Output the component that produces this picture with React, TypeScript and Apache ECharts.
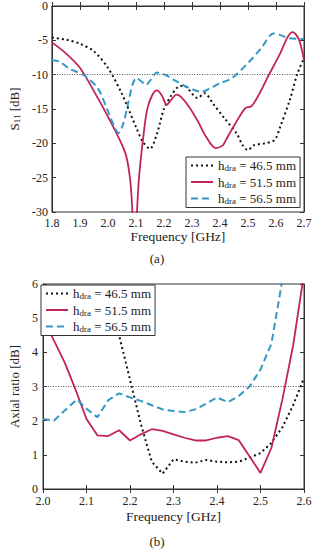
import React, { useEffect, useRef } from "react";
import * as echarts from "echarts";

// ---------- (a) S11 ----------
const fA46 = [1.8, 1.85, 1.9, 1.95, 2.0, 2.05, 2.1, 2.125, 2.15, 2.175, 2.2, 2.225, 2.25, 2.27, 2.285, 2.32, 2.345, 2.375, 2.415, 2.46, 2.48, 2.5, 2.52, 2.56, 2.595, 2.615, 2.65, 2.675, 2.7];
const sA46 = [-4.6, -4.9, -5.5, -6.6, -9.0, -12.8, -17.6, -19.8, -20.8, -18.6, -15.0, -13.1, -11.8, -11.6, -12.0, -13.4, -12.7, -14.2, -16.3, -18.6, -20.2, -21.0, -20.3, -20.0, -19.5, -17.6, -13.6, -10.0, -7.6];

const fA51 = [1.8, 1.85, 1.9, 1.95, 2.0, 2.04, 2.065, 2.08, 2.088, 2.095, 2.102, 2.11, 2.125, 2.14, 2.158, 2.175, 2.192, 2.21, 2.225, 2.245, 2.26, 2.29, 2.32, 2.35, 2.385, 2.41, 2.42, 2.455, 2.49, 2.512, 2.535, 2.575, 2.615, 2.642, 2.66, 2.682, 2.7];
const sA51 = [-5.3, -6.9, -9.0, -12.4, -16.1, -19.3, -21.8, -25.5, -30.5, -37, -31.5, -25.5, -19.5, -15.1, -13.0, -12.3, -13.0, -14.4, -13.7, -12.9, -13.2, -14.7, -16.7, -19.0, -20.7, -20.3, -19.6, -17.1, -14.9, -14.6, -13.2, -10.0, -6.9, -4.5, -3.8, -4.9, -7.9];

const fA56 = [1.8, 1.827, 1.861, 1.895, 1.918, 1.964, 2.0, 2.02, 2.038, 2.055, 2.072, 2.089, 2.102, 2.12, 2.135, 2.152, 2.175, 2.203, 2.237, 2.272, 2.306, 2.334, 2.363, 2.397, 2.443, 2.5, 2.546, 2.591, 2.614, 2.648, 2.7];
const sA56 = [-7.9, -8.1, -9.1, -9.7, -10.2, -12.0, -15.3, -17.3, -18.5, -17.1, -14.2, -11.3, -10.5, -11.0, -11.5, -10.8, -9.7, -10.0, -10.8, -11.6, -12.2, -12.5, -12.0, -11.3, -10.5, -8.3, -6.2, -4.0, -4.2, -4.7, -4.8];

// ---------- (b) Axial ratio ----------
const fB46 = [2.1, 2.125, 2.15, 2.175, 2.2, 2.225, 2.25, 2.275, 2.3, 2.325, 2.35, 2.375, 2.4, 2.425, 2.45, 2.475, 2.5, 2.525, 2.55, 2.575, 2.6];
const arB46 = [7.2, 6.3, 5.4, 4.5, 3.2, 1.9, 0.8, 0.45, 0.87, 0.8, 0.77, 0.85, 0.8, 0.78, 0.8, 0.92, 1.05, 1.35, 1.8, 2.45, 3.25];

const fB51 = [2.0, 2.025, 2.05, 2.075, 2.1, 2.125, 2.15, 2.175, 2.2, 2.225, 2.25, 2.275, 2.3, 2.325, 2.35, 2.375, 2.4, 2.425, 2.45, 2.475, 2.5, 2.525, 2.55, 2.575, 2.6];
const arB51 = [5.0, 4.35, 3.7, 2.9, 2.05, 1.57, 1.55, 1.72, 1.42, 1.6, 1.75, 1.7, 1.6, 1.5, 1.42, 1.42, 1.5, 1.55, 1.43, 0.95, 0.47, 1.2, 2.6, 4.2, 6.3];

const fB56 = [2.0, 2.025, 2.05, 2.078, 2.1, 2.125, 2.15, 2.175, 2.2, 2.225, 2.25, 2.275, 2.3, 2.325, 2.35, 2.375, 2.4, 2.425, 2.45, 2.475, 2.5, 2.525, 2.55];
const arB56 = [2.05, 2.0, 2.3, 2.62, 2.35, 2.1, 2.6, 2.8, 2.68, 2.58, 2.45, 2.33, 2.28, 2.25, 2.33, 2.5, 2.68, 2.54, 2.72, 3.0, 3.5, 4.25, 6.1];

const names = ["46.5", "51.5", "56.5"];
const colors = ["#111111", "#c0245a", "#3597c4"];
const lineTypes: any[] = [[2, 3], "solid", [7, 4]];
const lineWidths = [2, 1.8, 2];

const FONT = "Liberation Serif";

const zip = (xs: number[], ys: number[]) => xs.map((x, i) => [x, ys[i]]);

const subRich = {
  sub: { fontSize: 9, fontFamily: FONT, color: "#222", verticalAlign: "bottom", lineHeight: 8 },
  n: { fontSize: 13, fontFamily: FONT, color: "#222", lineHeight: 14 },
};

export default function App() {
  const ref = useRef<HTMLDivElement>(null);
  useEffect(() => {
    if (!ref.current) return;
    const chart = echarts.init(ref.current, undefined, { renderer: "svg" });

    const axisCommon = {
      axisLine: { show: true, lineStyle: { color: "#333", width: 1 } },
      axisTick: { show: true, inside: true, length: 4, lineStyle: { color: "#333" } },
      splitLine: { show: false },
    };
    const labelStyle = { fontFamily: FONT, fontSize: 12, color: "#222" };

    const mk = (gi: number, data: number[][][], smooth: boolean, refY: number) =>
      data.map((d, i) => ({
        type: "line",
        name: names[i],
        xAxisIndex: gi * 2,
        yAxisIndex: gi * 2,
        data: d,
        smooth: smooth ? 0.3 : false,
        symbol: "none",
        clip: true,
        lineStyle: { color: colors[i], width: lineWidths[i], type: lineTypes[i] },
        itemStyle: { color: colors[i] },
        z: 2,
        markLine:
          i === 0
            ? {
                silent: true,
                symbol: "none",
                label: { show: false },
                lineStyle: { color: "#555", width: 1, type: [1, 1.5] },
                data: [{ yAxis: refY }],
                z: 1,
              }
            : undefined,
      }));

    const legendCommon = {
      orient: "vertical",
      data: names,
      itemWidth: 22,
      itemHeight: 10,
      itemGap: 3,
      borderColor: "#333",
      borderWidth: 1,
      borderRadius: 0,
      backgroundColor: "#fff",
      padding: [2, 4, 2, 4],
      selectedMode: false,
      itemStyle: { opacity: 0 },
      formatter: (n: string) => `{n|h}{sub|dra}{n| = ${n} mm}`,
      textStyle: { fontFamily: FONT, fontSize: 13, color: "#222", rich: subRich },
      z: 10,
    };

    chart.setOption({
      animation: false,
      grid: [
        { left: 40, right: 11, top: 5, height: 207, show: true, borderColor: "#333", borderWidth: 1 },
        { left: 40, right: 11, top: 284, height: 205, show: true, borderColor: "#333", borderWidth: 1 },
      ],
      xAxis: [
        {
          type: "value", gridIndex: 0, min: 1.8, max: 2.7, interval: 0.1, position: "bottom",
          ...axisCommon,
          axisLabel: { ...labelStyle, margin: 5, formatter: (v: number) => v.toFixed(1) },
          name: "Frequency [GHz]", nameLocation: "middle", nameGap: 17,
          nameTextStyle: { fontFamily: FONT, fontSize: 13.5, color: "#222" },
        },
        {
          type: "value", gridIndex: 0, min: 1.8, max: 2.7, interval: 0.1, position: "top",
          ...axisCommon, axisLabel: { show: false },
        },
        {
          type: "value", gridIndex: 1, min: 2.0, max: 2.6, interval: 0.1, position: "bottom",
          ...axisCommon,
          axisLabel: { ...labelStyle, margin: 6, formatter: (v: number) => v.toFixed(1) },
          name: "Frequency [GHz]", nameLocation: "middle", nameGap: 20,
          nameTextStyle: { fontFamily: FONT, fontSize: 13.5, color: "#222" },
        },
        {
          type: "value", gridIndex: 1, min: 2.0, max: 2.6, interval: 0.1, position: "top",
          ...axisCommon, axisLabel: { show: false },
        },
      ],
      yAxis: [
        {
          type: "value", gridIndex: 0, min: -30, max: 0, interval: 5, position: "left",
          ...axisCommon,
          axisLabel: { ...labelStyle, margin: 4, lineHeight: 10, padding: [0, 0, 2, 0] },
          name: "S{sub|11} [dB]", nameLocation: "middle", nameGap: 27,
          nameTextStyle: { fontFamily: FONT, fontSize: 13, color: "#222", rich: subRich },
        },
        {
          type: "value", gridIndex: 0, min: -30, max: 0, interval: 5, position: "right",
          ...axisCommon, axisLabel: { show: false },
        },
        {
          type: "value", gridIndex: 1, min: 0, max: 6, interval: 1, position: "left",
          ...axisCommon,
          axisLabel: { ...labelStyle, margin: 5, lineHeight: 10, padding: [0, 0, 2, 0] },
          name: "Axial ratio [dB]", nameLocation: "middle", nameGap: 22,
          nameTextStyle: { fontFamily: FONT, fontSize: 13, color: "#222" },
        },
        {
          type: "value", gridIndex: 1, min: 0, max: 6, interval: 1, position: "right",
          ...axisCommon, axisLabel: { show: false },
        },
      ],
      legend: [
        { ...legendCommon, left: 186, top: 157 },
        { ...legendCommon, left: 41, top: 285 },
      ],
      series: [
        ...mk(0, [zip(fA46, sA46), zip(fA51, sA51), zip(fA56, sA56)], true, -10),
        ...mk(1, [zip(fB46, arB46), zip(fB51, arB51), zip(fB56, arB56)], false, 3),
      ],
      graphic: [
        { type: "text", x: 157, y: 258, style: { text: "(a)", font: `13px "${FONT}"`, fill: "#222", textAlign: "center", textVerticalAlign: "middle" } },
        { type: "text", x: 157, y: 541, style: { text: "(b)", font: `13px "${FONT}"`, fill: "#222", textAlign: "center", textVerticalAlign: "middle" } },
      ],
    });
    return () => chart.dispose();
  }, []);
  return <div ref={ref} style={{ position: "fixed", left: 0, top: 0, width: 315, height: 550, background: "#fff" }} />;
}
